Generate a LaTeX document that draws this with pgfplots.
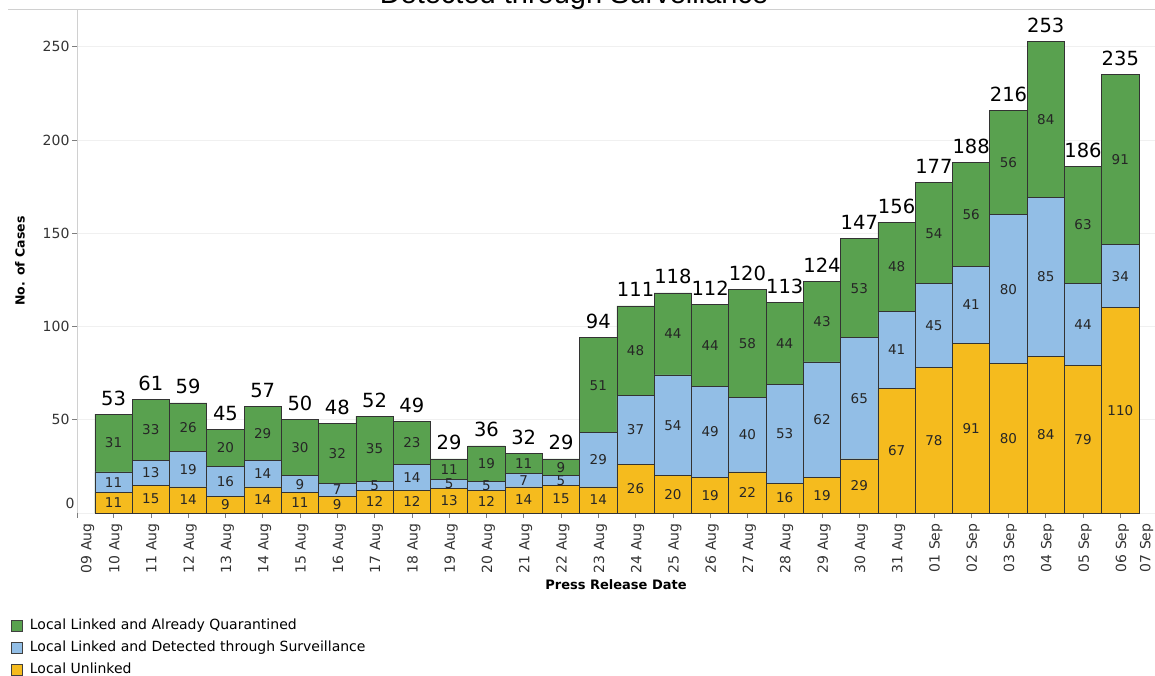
\documentclass[border=0pt]{standalone}
\usepackage{pgfplots}
\usepackage{pgfplotstable}
\usepackage{fontspec}
\pgfplotsset{compat=1.18}
\setmainfont{DejaVu Sans}
\newfontfamily\arialfont{Liberation Sans}
\definecolor{cq}{RGB}{89,161,79}
\definecolor{cs}{RGB}{146,190,230}
\definecolor{cu}{RGB}{245,187,30}
\definecolor{gridc}{RGB}{240,240,240}
\definecolor{axc}{RGB}{208,208,208}
\definecolor{tickc}{RGB}{51,51,51}

\pgfplotstableread{
x u s q t
0 11 11 31 53
1 15 13 33 61
2 14 19 26 59
3 9 16 20 45
4 14 14 29 57
5 11 9 30 50
6 9 7 32 48
7 12 5 35 52
8 12 14 23 49
9 13 5 11 29
10 12 5 19 36
11 14 7 11 32
12 15 5 9 29
13 14 29 51 94
14 26 37 48 111
15 20 54 44 118
16 19 49 44 112
17 22 40 58 120
18 16 53 44 113
19 19 62 43 124
20 29 65 53 147
21 67 41 48 156
22 78 45 54 177
23 91 41 56 188
24 80 80 56 216
25 84 85 84 253
26 79 44 63 186
27 110 34 91 235
}\data

\begin{document}
\begin{tikzpicture}[x=1pt,y=1pt]
\useasboundingbox (0,0) rectangle (1155,675);
\draw[axc, line width=0.8pt] (8,666) -- (1155,666);
\node[font=\arialfont\fontsize{29}{29}\selectfont, anchor=base] at (574,671) {Detected through Surveillance};
\begin{axis}[
  at={(77pt,162pt)}, anchor=south west,
  scale only axis,
  width=1078pt, height=504pt,
  xmin=-0.98, xmax=27.93,
  ymin=0, ymax=270.2,
  clip=false,
  axis x line*=bottom, axis y line*=left,
  axis line style={axc, line width=0.8pt},
  ytick={50,100,150,200,250},
  extra y ticks={0},
  extra y tick style={major tick length=0pt, yticklabel style={yshift=10pt}},
  ymajorgrids,
  grid style={gridc, line width=0.6pt},
  tick align=outside,
  major tick length=5pt,
  tick style={axc!60!black, line width=0.6pt},
  /pgf/number format/assume math mode=true,
  yticklabel style={font=\fontsize{14}{14}\selectfont, text=tickc, xshift=1pt},
  xtick={0,...,27},
  xticklabels={10 Aug,11 Aug,12 Aug,13 Aug,14 Aug,15 Aug,16 Aug,17 Aug,18 Aug,19 Aug,20 Aug,21 Aug,22 Aug,23 Aug,24 Aug,25 Aug,26 Aug,27 Aug,28 Aug,29 Aug,30 Aug,31 Aug,01 Sep,02 Sep,03 Sep,04 Sep,05 Sep,06 Sep},
  xticklabel style={font=\fontsize{14}{14}\selectfont, text=tickc, rotate=90, anchor=east, xshift=-2pt, yshift=-2pt},
  extra x ticks={-0.75,27.65},
  extra x tick labels={09 Aug,07 Sep},
  extra x tick style={major tick length=0pt, xticklabel style={xshift=-5pt}},
  xlabel={\textbf{Press Release Date}},
  xlabel style={at={(axis description cs:0.5,0)}, anchor=center, yshift=-72pt, font=\fontsize{13}{13}\selectfont},
  ylabel={\textbf{No. of Cases}},
  ylabel style={at={(axis description cs:-0.0529,0.5)}, anchor=center, font=\fontsize{12.5}{12.5}\selectfont},
  legend cell align=left,
  legend style={at={(axis description cs:-0.064,-0.203)}, anchor=north west, draw=none, fill=none,
    font=\fontsize{14}{14}\selectfont, row sep=5pt,
    nodes={inner sep=1pt, text height=11pt, text depth=4pt},
    /tikz/every odd column/.append style={column sep=6pt}},
  legend image code/.code={\draw[#1, draw=black!75, line width=0.7pt] (0pt,-5.5pt) rectangle (11pt,5.5pt);},
]
\addplot[ybar, bar width=1, bar shift=0pt, fill=cq, draw=black!80, line width=0.7pt] table[x=x, y=t] {\data};
\addlegendentry{Local Linked and Already Quarantined}
\addplot[ybar, bar width=1, bar shift=0pt, fill=cs, draw=black!80, line width=0.7pt] table[x=x, y expr=\thisrow{u}+\thisrow{s}] {\data};
\addlegendentry{Local Linked and Detected through Surveillance}
\addplot[ybar, bar width=1, bar shift=0pt, fill=cu, draw=black!80, line width=0.7pt] table[x=x, y=u] {\data};
\addlegendentry{Local Unlinked}
% segment labels
\addplot[draw=none, forget plot, nodes near coords, point meta=explicit, nodes near coords align={anchor=center},
  every node near coord/.append style={font=\fontsize{13.5}{13.5}\selectfont, text=black!85}]
  table[x=x, y expr=\thisrow{u}/2, meta=u] {\data};
\addplot[draw=none, forget plot, nodes near coords, point meta=explicit, nodes near coords align={anchor=center},
  every node near coord/.append style={font=\fontsize{13.5}{13.5}\selectfont, text=black!85}]
  table[x=x, y expr=\thisrow{u}+\thisrow{s}/2, meta=s] {\data};
\addplot[draw=none, forget plot, nodes near coords, point meta=explicit, nodes near coords align={anchor=center},
  every node near coord/.append style={font=\fontsize{13.5}{13.5}\selectfont, text=black!85}]
  table[x=x, y expr=\thisrow{u}+\thisrow{s}+\thisrow{q}/2, meta=q] {\data};
% totals
\addplot[draw=none, forget plot, nodes near coords, point meta=explicit, nodes near coords align={anchor=base},
  every node near coord/.append style={font=\fontsize{19.5}{19.5}\selectfont, text=black, inner sep=0pt, yshift=9pt}]
  table[x=x, y=t, meta=t] {\data};
\draw[axc!60!black, line width=0.6pt] (axis cs:-0.98,0) -- ++(0pt,-5pt);
\end{axis}
\end{tikzpicture}
\end{document}
